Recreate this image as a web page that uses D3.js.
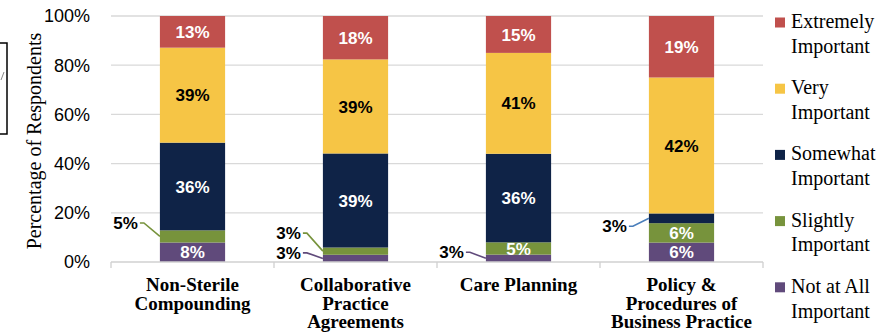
<!DOCTYPE html>
<html>
<head>
<meta charset="utf-8">
<script src="https://cdn.jsdelivr.net/npm/d3@7"></script>
<style>
  html, body { margin: 0; padding: 0; background: #fff; }
  svg { display: block; }
</style>
</head>
<body>
<svg id="chart" width="890" height="336"></svg>
<script>
// Survey categories (multi-line axis labels)
const categories = ["Non-Sterile Compounding", "Collaborative Practice Agreements", "Care Planning", "Policy & Procedures of Business Practice"];
const categoryLines = [
  ["Non-Sterile", "Compounding"],
  ["Collaborative", "Practice", "Agreements"],
  ["Care Planning"],
  ["Policy &", "Procedures of", "Business Practice"]
];

// Importance levels, bottom of the stack first
const seriesNames = ["Not at All Important", "Slightly Important", "Somewhat Important", "Very Important", "Extremely Important"];
const legendLines = [
  ["Not at All", "Important"],
  ["Slightly", "Important"],
  ["Somewhat", "Important"],
  ["Very", "Important"],
  ["Extremely", "Important"]
];

// Percent of respondents per category, one array per level
const notAtAll   = [8, 3, 3, 6];
const slightly   = [5, 3, 5, 6];
const somewhat   = [36, 39, 36, 3];
const very       = [39, 39, 41, 42];
const extremely  = [13, 18, 15, 19];

const yTicks = [0, 0.2, 0.4, 0.6, 0.8, 1.0];

// Labels drawn beside the bar with a leader line: [category index, series index]
const callouts = [[0, 1], [1, 1], [1, 0], [2, 0], [3, 2]];

const colors = ["#604A7B", "#77933C", "#0F2347", "#F6C545", "#C0504D"];
const labelColors = ["#fff", "#fff", "#fff", "#000", "#fff"];
const leaderColors = ["#604A7B", "#77933C", "#4A7EBB", "#F6C545", "#C0504D"];

const seriesValues = [notAtAll, slightly, somewhat, very, extremely];
const rows = categories.map((c, i) => {
  const r = { category: c };
  seriesNames.forEach((s, k) => { r[s] = seriesValues[k][i]; });
  return r;
});

// 100% stacked: each bar is normalised by its own total
const stacked = d3.stack().keys(seriesNames).offset(d3.stackOffsetExpand)(rows);

const svg = d3.select("#chart");
const plot = { left: 111, right: 763, top: 16, bottom: 262 };

const x = d3.scaleBand().domain(categories).range([plot.left, plot.right]).padding(0);
const y = d3.scaleLinear().domain([0, 1]).range([plot.bottom, plot.top]);
const barFrac = 0.4;
const barX = c => x(c) + x.bandwidth() * (1 - barFrac) / 2;
const barW = x.bandwidth() * barFrac;

// gridlines
svg.append("g").selectAll("line").data(yTicks.slice(1)).join("line")
  .attr("x1", plot.left).attr("x2", plot.right)
  .attr("y1", d => y(d)).attr("y2", d => y(d))
  .attr("stroke", "#D9D9D9").attr("stroke-width", 1.3);

// y-axis tick labels
svg.append("g").selectAll("text").data(yTicks).join("text")
  .attr("x", 90).attr("y", d => y(d)).attr("dy", "0.36em")
  .attr("text-anchor", "end")
  .attr("font-family", "Liberation Sans, Arial, sans-serif")
  .attr("font-size", 18).attr("fill", "#000")
  .text(d3.format(".0%"));

// y-axis title
svg.append("text")
  .attr("transform", `translate(41,${(plot.top + plot.bottom) / 2 + 2}) rotate(-90)`)
  .attr("text-anchor", "middle")
  .attr("font-family", "Liberation Serif, Times New Roman, serif")
  .attr("font-size", 20).attr("fill", "#000")
  .text("Percentage of Respondents");

// bars
const layers = svg.append("g").selectAll("g").data(stacked).join("g")
  .attr("fill", (d, k) => colors[k]);
layers.selectAll("rect").data(d => d).join("rect")
  .attr("x", d => barX(d.data.category))
  .attr("width", barW)
  .attr("y", d => y(d[1]))
  .attr("height", d => y(d[0]) - y(d[1]));

// x-axis baseline and boundary ticks
const bounds = categories.map(c => x(c)).concat([plot.right]);
svg.append("line")
  .attr("x1", plot.left).attr("x2", plot.right)
  .attr("y1", plot.bottom).attr("y2", plot.bottom)
  .attr("stroke", "#D0D0D0").attr("stroke-width", 1.3);
svg.append("g").selectAll("line").data(bounds).join("line")
  .attr("x1", d => d).attr("x2", d => d)
  .attr("y1", plot.bottom).attr("y2", plot.bottom + 6)
  .attr("stroke", "#D0D0D0").attr("stroke-width", 1.3);

// category labels
const catG = svg.append("g")
  .attr("font-family", "Liberation Serif, Times New Roman, serif")
  .attr("font-weight", "bold").attr("font-size", 19)
  .attr("text-anchor", "middle").attr("fill", "#000");
categories.forEach((c, i) => {
  catG.append("text")
    .attr("x", x(c) + x.bandwidth() / 2)
    .attr("y", 291)
    .selectAll("tspan").data(categoryLines[i]).join("tspan")
    .attr("x", x(c) + x.bandwidth() / 2)
    .attr("dy", (d, j) => j === 0 ? 0 : 18.7)
    .text(d => d);
});

// value labels
const isCallout = (ci, si) => callouts.some(([a, b]) => a === ci && b === si);
const fmt = v => v + "%";
const labelG = svg.append("g")
  .attr("font-family", "Liberation Sans, Arial, sans-serif")
  .attr("font-weight", "bold").attr("font-size", 17);

stacked.forEach((layer, si) => {
  layer.forEach((d, ci) => {
    if (isCallout(ci, si)) return;
    labelG.append("text")
      .attr("x", barX(d.data.category) + barW / 2)
      .attr("y", (y(d[0]) + y(d[1])) / 2)
      .attr("dy", "0.36em")
      .attr("text-anchor", "middle")
      .attr("fill", labelColors[si])
      .text(fmt(seriesValues[si][ci]));
  });
});

// labels placed to the left of thin segments, joined by a leader line
const calloutShift = { "0-1": -13.5, "1-1": -18, "1-0": -5.5, "2-0": -6, "3-2": 8 };
callouts.forEach(([ci, si]) => {
  const d = stacked[si][ci];
  const cy = (y(d[0]) + y(d[1])) / 2;
  const left = barX(d.data.category);
  const ly = cy + calloutShift[ci + "-" + si];
  const tx = left - 22;
  labelG.append("text")
    .attr("x", tx).attr("y", ly).attr("dy", "0.36em")
    .attr("text-anchor", "end").attr("fill", "#000")
    .text(fmt(seriesValues[si][ci]));
  svg.append("path")
    .attr("d", d3.line()([[tx + 2, ly], [tx + 6, ly], [left, cy]]))
    .attr("fill", "none")
    .attr("stroke", leaderColors[si]).attr("stroke-width", 1.6);
});

// legend, top entry first
const legendOrder = [4, 3, 2, 1, 0];
const legG = svg.append("g")
  .attr("font-family", "Liberation Serif, Times New Roman, serif")
  .attr("font-size", 20).attr("fill", "#000");
legendOrder.forEach((si, i) => {
  const base = 28 + i * 66.2;
  legG.append("rect")
    .attr("x", 775).attr("y", base - 10.5)
    .attr("width", 10).attr("height", 10)
    .attr("fill", colors[si]);
  legG.append("text")
    .attr("x", 791).attr("y", base)
    .selectAll("tspan").data(legendLines[si]).join("tspan")
    .attr("x", 791)
    .attr("dy", (d, j) => j === 0 ? 0 : 24.8)
    .text(d => d);
});

// partly visible framed box at the left edge
svg.append("rect")
  .attr("x", -4).attr("y", 43).attr("width", 11).attr("height", 91)
  .attr("fill", "none").attr("stroke", "#000").attr("stroke-width", 1.5);
svg.append("line")
  .attr("x1", 4).attr("y1", 72).attr("x2", 1).attr("y2", 80)
  .attr("stroke", "#888").attr("stroke-width", 1);
</script>
</body>
</html>
